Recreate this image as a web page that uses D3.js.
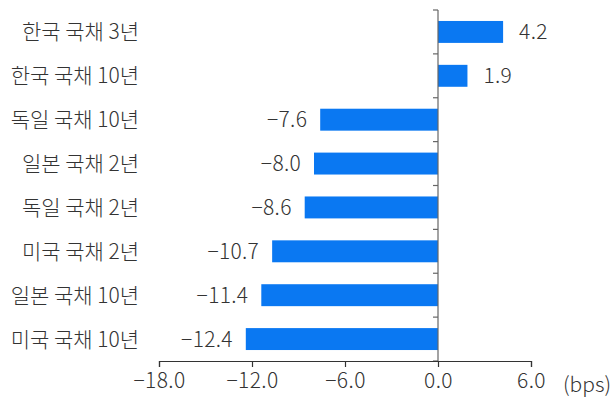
<!DOCTYPE html>
<html><head><meta charset="utf-8">
<script src="https://cdn.jsdelivr.net/npm/d3@7"></script>
<style>body{margin:0;background:#fff;}svg{display:block;}text{font-family:"Noto Sans CJK KR","Noto Sans",sans-serif;fill:#333;font-weight:300;}</style>
</head><body>
<svg id="c" width="611" height="397"></svg>
<script>
const categories = ["한국 국채 3년","한국 국채 10년","독일 국채 10년","일본 국채 2년","독일 국채 2년","미국 국채 2년","일본 국채 10년","미국 국채 10년"];
const values = [4.2, 1.9, -7.6, -8.0, -8.6, -10.7, -11.4, -12.4];
const tickValues = [-18, -12, -6, 0, 6];
const unitLabel = "(bps)";

const FS = "21px";
const svg = d3.select("#c");
const x = d3.scaleLinear().domain([-18, 6]).range([159, 531]);
const y = d3.scaleBand().domain(categories).range([10, 361]).paddingInner(0.5).paddingOuter(0.25);
const fmt = v => (v < 0 ? "−" : "") + Math.abs(v).toFixed(1);

svg.selectAll("rect.bar").data(values).join("rect")
  .attr("x", (d) => Math.min(x(0), x(d)))
  .attr("y", (d, i) => y(categories[i]))
  .attr("width", d => Math.abs(x(d) - x(0)))
  .attr("height", y.bandwidth())
  .attr("fill", "#0a78f2");

svg.selectAll("text.val").data(values).join("text")
  .attr("x", d => d >= 0 ? x(d) + 16 : x(d) - 13)
  .attr("y", (d, i) => y(categories[i]) + y.bandwidth() / 2)
  .attr("dy", "0.36em")
  .attr("text-anchor", d => d >= 0 ? "start" : "end")
  .style("font-size", FS)
  .style("letter-spacing", "0.3px")
  .text(fmt);

svg.selectAll("text.cat").data(categories).join("text")
  .attr("x", 139)
  .attr("y", d => y(d) + y.bandwidth() / 2)
  .attr("dy", "0.36em")
  .attr("text-anchor", "end")
  .style("font-size", FS)
  .text(d => d);

const bounds = d3.range(categories.length + 1).map(i => 10 + i * (351 / categories.length));
svg.append("line").attr("x1", x(0)).attr("x2", x(0)).attr("y1", 10).attr("y2", 361)
  .attr("stroke", "#666").attr("stroke-width", 1.2);
svg.selectAll("line.yt").data(bounds).join("line")
  .attr("x1", x(0) - 5).attr("x2", x(0)).attr("y1", d => d).attr("y2", d => d)
  .attr("stroke", "#666").attr("stroke-width", 1.2);

const xAxis = d3.axisBottom(x).tickValues(tickValues).tickSize(6).tickFormat(fmt);
const gx = svg.append("g").attr("transform", "translate(0,361)").call(xAxis);
gx.select(".domain").attr("stroke", "#333").attr("stroke-width", 1.2);
gx.selectAll(".tick line").attr("stroke", "#333").attr("stroke-width", 1.2);
gx.selectAll(".tick text").attr("y", 12).style("font-size", FS).style("letter-spacing", "0.4px").style("font-family", '"Noto Sans CJK KR",sans-serif').style("font-weight", 300).attr("fill", "#333");

svg.append("text").attr("x", 563).attr("y", 392).style("font-size", FS).text(unitLabel);
</script>
</body></html>
